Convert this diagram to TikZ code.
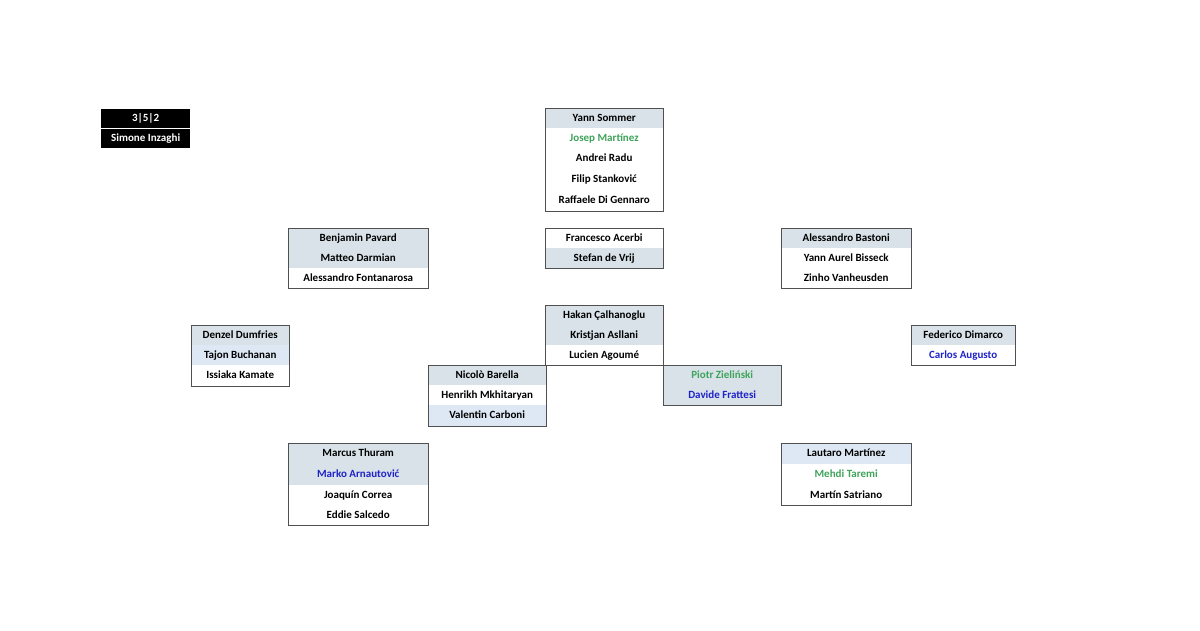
\documentclass[tikz,border=0pt]{standalone}
\usepackage{fontspec}
\setmainfont{Carlito}
\begin{document}
\definecolor{gb}{HTML}{D8E2E8}
\definecolor{lb}{HTML}{DDE8F4}
\definecolor{grn}{HTML}{3FA35A}
\definecolor{blu}{HTML}{1F22C8}
\definecolor{frame}{HTML}{505050}
\begin{tikzpicture}[x=1pt,y=-1pt,
  row/.style={anchor=north west,inner sep=0pt,font=\fontsize{11}{13}\selectfont\bfseries,text height=8pt,text depth=2pt},
  box/.style={draw=frame,line width=0.9pt},
  G/.style={fill=gb},L/.style={fill=lb},W/.style={fill=white},
  gt/.style={text=grn},bt/.style={text=blu}]
\useasboundingbox (0,0) rectangle (1200,630);
% formation
\node[row,fill=black,text=white,minimum width=89pt,minimum height=19pt] (f1) at (101,109) {3|5|2};
\node[row,fill=black,text=white,minimum width=89pt,minimum height=19pt] (f2) at (101,129) {Simone Inzaghi};
% GK
\node[row,G,minimum width=118pt,minimum height=20pt] (gk1) at (545,108) {Yann Sommer};
\node[row,W,gt,minimum width=118pt,minimum height=20pt] (gk2) at (545,128) {Josep Martínez};
\node[row,W,minimum width=118pt,minimum height=21pt] (gk3) at (545,148) {Andrei Radu};
\node[row,W,minimum width=118pt,minimum height=21pt] (gk4) at (545,169) {Filip Stanković};
\node[row,W,minimum width=118pt,minimum height=21pt] (gk5) at (545,190) {Raffaele Di Gennaro};
\draw[box] (gk1.north west) rectangle (gk5.south east);
% CB
\node[row,W,minimum width=118pt,minimum height=20pt] (cb1) at (545,228) {Francesco Acerbi};
\node[row,G,minimum width=118pt,minimum height=20pt] (cb2) at (545,248) {Stefan de Vrij};
\draw[box] (cb1.north west) rectangle (cb2.south east);
% RCB
\node[row,G,minimum width=140pt,minimum height=20pt] (r1) at (288,228) {Benjamin Pavard};
\node[row,G,minimum width=140pt,minimum height=20pt] (r2) at (288,248) {Matteo Darmian};
\node[row,W,minimum width=140pt,minimum height=20pt] (r3) at (288,268) {Alessandro Fontanarosa};
\draw[box] (r1.north west) rectangle (r3.south east);
% LCB
\node[row,G,minimum width=130pt,minimum height=20pt] (l1) at (781,228) {Alessandro Bastoni};
\node[row,W,minimum width=130pt,minimum height=20pt] (l2) at (781,248) {Yann Aurel Bisseck};
\node[row,W,minimum width=130pt,minimum height=20pt] (l3) at (781,268) {Zinho Vanheusden};
\draw[box] (l1.north west) rectangle (l3.south east);
% DM
\node[row,G,minimum width=118pt,minimum height=20pt] (d1) at (545,305) {Hakan Çalhanoglu};
\node[row,G,minimum width=118pt,minimum height=20pt] (d2) at (545,325) {Kristjan Asllani};
\node[row,W,minimum width=118pt,minimum height=20pt] (d3) at (545,345) {Lucien Agoumé};
\draw[box] (d1.north west) rectangle (d3.south east);
% RWB
\node[row,G,minimum width=98pt,minimum height=20pt] (w1) at (191,325) {Denzel Dumfries};
\node[row,L,minimum width=98pt,minimum height=20pt] (w2) at (191,345) {Tajon Buchanan};
\node[row,W,minimum width=98pt,minimum height=21pt] (w3) at (191,365) {Issiaka Kamate};
\draw[box] (w1.north west) rectangle (w3.south east);
% LWB
\node[row,G,minimum width=104pt,minimum height=20pt] (k1) at (911,325) {Federico Dimarco};
\node[row,W,bt,minimum width=104pt,minimum height=20pt] (k2) at (911,345) {Carlos Augusto};
\draw[box] (k1.north west) rectangle (k2.south east);
% RCM
\node[row,G,minimum width=118pt,minimum height=20pt] (m1) at (428,365) {Nicolò Barella};
\node[row,W,minimum width=118pt,minimum height=20pt] (m2) at (428,385) {Henrikh Mkhitaryan};
\node[row,L,minimum width=118pt,minimum height=21pt] (m3) at (428,405) {Valentin Carboni};
\draw[box] (m1.north west) rectangle (m3.south east);
% LCM
\node[row,G,gt,minimum width=118pt,minimum height=20pt] (n1) at (663,365) {Piotr Zieliński};
\node[row,G,bt,minimum width=118pt,minimum height=20pt] (n2) at (663,385) {Davide Frattesi};
\draw[box] (n1.north west) rectangle (n2.south east);
% RS
\node[row,G,minimum width=140pt,minimum height=21pt] (s1) at (288,443) {Marcus Thuram};
\node[row,G,bt,minimum width=140pt,minimum height=21pt] (s2) at (288,464) {Marko Arnautović};
\node[row,W,minimum width=140pt,minimum height=20pt] (s3) at (288,485) {Joaquín Correa};
\node[row,W,minimum width=140pt,minimum height=20pt] (s4) at (288,505) {Eddie Salcedo};
\draw[box] (s1.north west) rectangle (s4.south east);
% LS
\node[row,L,minimum width=130pt,minimum height=21pt] (t1) at (781,443) {Lautaro Martínez};
\node[row,W,gt,minimum width=130pt,minimum height=21pt] (t2) at (781,464) {Mehdi Taremi};
\node[row,W,minimum width=130pt,minimum height=20pt] (t3) at (781,485) {Martín Satriano};
\draw[box] (t1.north west) rectangle (t3.south east);
\end{tikzpicture}
\end{document}
